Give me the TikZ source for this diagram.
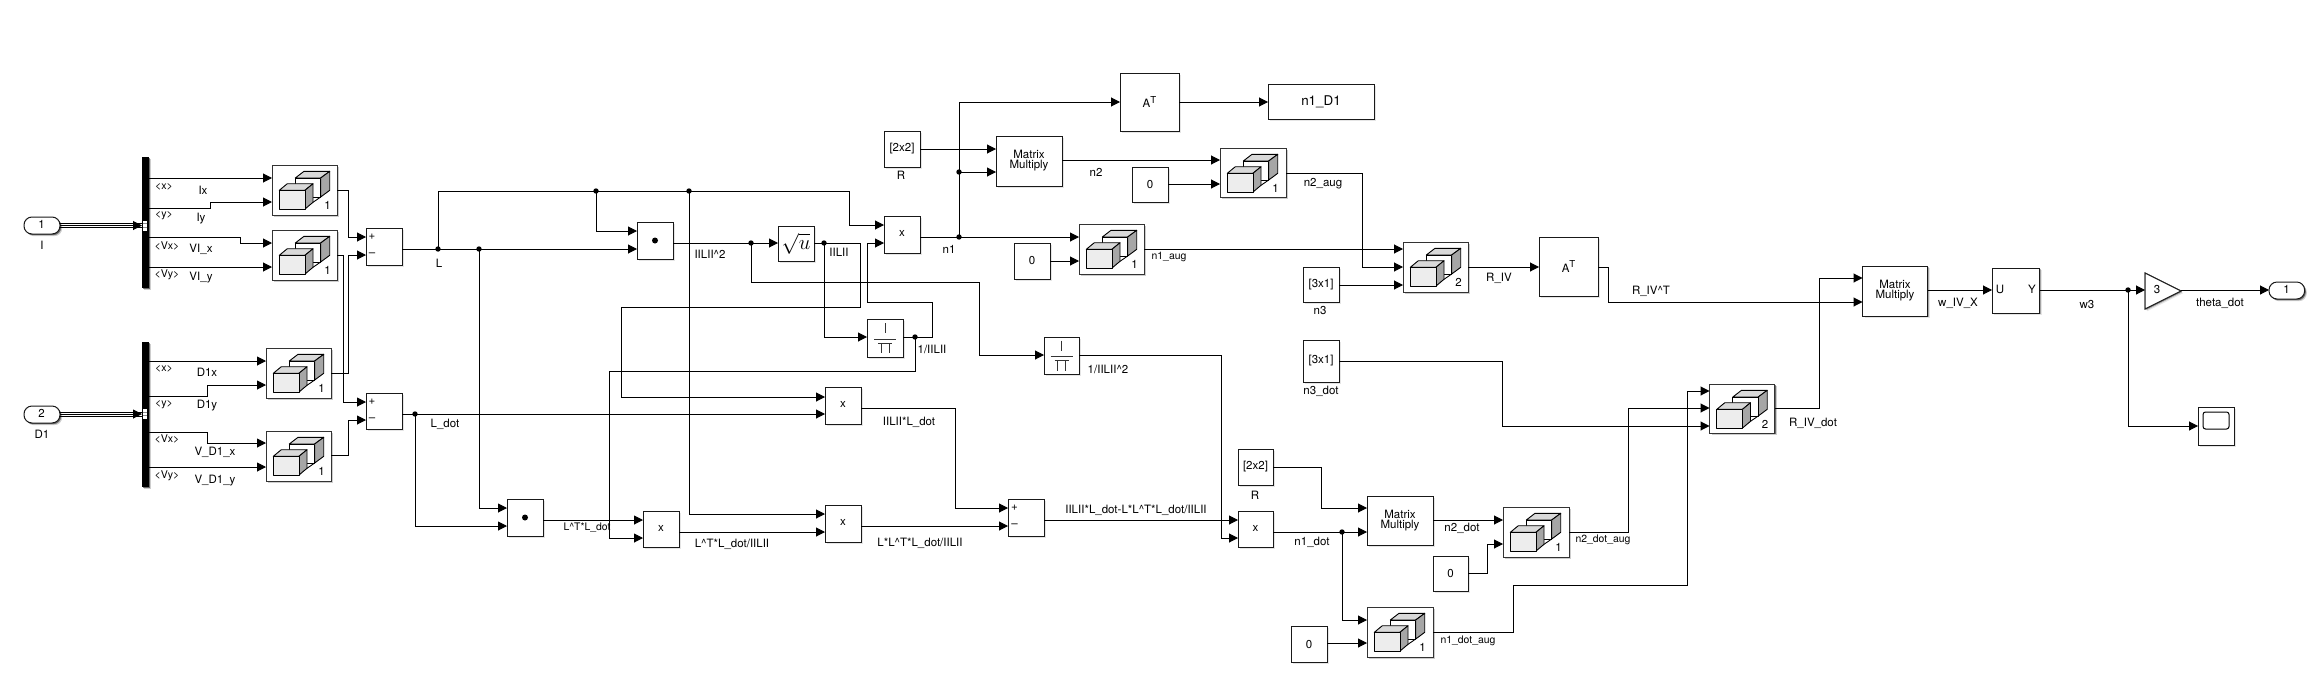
\documentclass[tikz,border=0pt]{standalone}
\usepackage{fontspec}
\setmainfont{TeX Gyre Heros}
\usetikzlibrary{arrows.meta,shadows}
\tikzset{
  softshadow/.style={
    general shadow={shadow xshift=2.2pt,shadow yshift=-2.2pt,opacity=.10,fill=black},
    general shadow={shadow xshift=1.2pt,shadow yshift=-1.2pt,opacity=.28,fill=black}},
  blockbox/.style={softshadow,draw=black!90,fill=white,line width=1pt,inner sep=0pt,outer sep=0pt,
    align=center,font=\fontsize{11.5}{10}\selectfont},
  catbox/.style={blockbox,draw=black!80},
  wire/.style={draw=black,line width=1pt},
  arrowwire/.style={wire,-{Triangle[length=9pt,width=9pt]}},
  junc/.style={circle,fill=black,inner sep=0pt,minimum size=5.4pt,outer sep=0pt},
  lab/.style={inner sep=0pt,outer sep=0pt,font=\fontsize{11.5}{12}\selectfont},
  smlab/.style={lab,font=\fontsize{10.4}{12}\selectfont},
  buslab/.style={lab,font=\fontsize{10.6}{12}\selectfont},
  portbox/.style={blockbox,rounded corners=8pt},
  busbar/.style={softshadow,fill=black,draw=none,inner sep=0pt,outer sep=0pt},
}
\newcommand{\blk}[7][]{%
  \pgfmathsetmacro\bcx{(#3+#5)/2}\pgfmathsetmacro\bcy{(#4+#6)/2}%
  \pgfmathsetmacro\bw{#5-#3}\pgfmathsetmacro\bh{#6-#4}%
  \node[blockbox,minimum width=\bw pt,minimum height=\bh pt,#1] (#2) at (\bcx,\bcy) {#7};}
\newcommand{\lbl}[5][lab]{\node[#1] (#2) at (#3,#4) {#5};}
\newcommand{\atxt}{A\raisebox{4.2pt}{\fontsize{9.6}{10}\selectfont T}}
\newcommand{\xtxt}{\raisebox{2pt}{x}}
% concatenate icon, origin in the block's top left corner
\newcommand{\caticon}[2]{%
  \begin{scope}[shift={(#1.north west)},line width=.9pt,draw=black,line join=round]
    \draw[fill=black!15] (23.3,13)--(32,6.3)--(57.7,6.3)--(48.7,13)--cycle;
    \draw[fill=black!35] (48.7,13)--(57.7,6.3)--(57.7,25.3)--(48.7,32)--cycle;
    \draw[fill=white] (23.3,13) rectangle (48.7,32);
    \draw[fill=black!15] (7.3,25.3)--(15.3,18.7)--(41,18.7)--(33,25.3)--cycle;
    \draw[fill=black!35] (33,25.3)--(41,18.7)--(41,37.3)--(33,44)--cycle;
    \draw[fill=black!7] (7.3,25.3) rectangle (33,44);
    \draw (41,37.3)--(48.7,32);
    \node[lab] at (55.5,40.5) {#2};
  \end{scope}}
% reciprocal (divide) icon
\newcommand{\divicon}[1]{%
  \begin{scope}[shift={(#1.center)},line width=1pt,draw=black!80]
    \draw (0,-15)--(0,-5);
    \draw (-11,1)--(11,1);
    \draw (-7,5)--(7,5) (-4,5)--(-4,15) (4,5)--(4,15);
  \end{scope}}
\newcommand{\dotmark}[1]{\fill[black] (#1.center) circle (3pt);}
\begin{document}
\begin{tikzpicture}[x=1pt,y=-1pt]
\useasboundingbox (0,0) rectangle (2314,672);
\fill[white] (0,0) rectangle (2314,672);

% ---------- ports and buses
\blk[portbox]{inA}{24}{217}{60}{234}{}
\blk[portbox]{inB}{24}{406}{60}{423}{}
\lbl{inAn}{41.5}{224.5}{1}
\lbl{inBn}{41.5}{413}{2}
\lbl{inAl}{42}{245}{I}
\lbl{inBl}{42}{434}{D1}
\blk[busbar]{busA}{142}{157}{149}{288}{}
\blk[busbar]{busB}{142}{342}{149}{487}{}

% ---------- blocks
\blk[catbox]{cA}{272}{165}{337}{215}{}
\blk[catbox]{cB}{272}{230}{337}{280}{}
\blk[catbox]{cC}{266}{348}{331}{398}{}
\blk[catbox]{cD}{266}{431}{331}{481}{}
\blk{sumA}{366}{228}{402}{265}{}
\blk{sumB}{366}{393}{402}{429}{}
\blk{sumC}{1008}{499}{1044}{536}{}
\blk{dotA}{637}{222}{673}{259}{}
\blk{dotB}{507}{499}{543}{536}{}
\blk{sqrtA}{778}{226}{814}{261}{\huge$\sqrt{u}$}
\blk{prodA}{884}{216}{920}{253}{\xtxt}
\blk{prodB}{643}{511}{679}{547}{\xtxt}
\blk{prodC}{825}{387}{861}{424}{\xtxt}
\blk{prodD}{825}{505}{861}{542}{\xtxt}
\blk{prodE}{1238}{511}{1273}{547}{\xtxt}
\blk{invA}{867}{319}{903}{357}{}
\blk{invB}{1044}{337}{1079}{374}{}
\blk{rA}{884}{131}{920}{167}{[2x2]}
\blk{rB}{1238}{449}{1273}{485}{[2x2]}
\blk{mmA}{996}{136}{1062}{186}{Matrix\\Multiply}
\blk{mmB}{1862.5}{266}{1927.5}{316}{Matrix\\Multiply}
\blk{mmC}{1367}{496}{1433}{545}{Matrix\\Multiply}
\blk{atA}{1120}{73}{1179}{131}{\atxt}
\blk{atB}{1539}{237}{1598}{296}{\atxt}
\blk[font=\fontsize{13.4}{14}\selectfont]{gotoA}{1268}{84}{1374}{119}{n1\_D1}
\blk[catbox]{cE}{1220}{148}{1286}{197}{}
\blk[catbox]{cF}{1079}{224}{1144}{274}{}
\blk[catbox]{cG}{1403}{242}{1468}{292}{}
\blk[catbox]{cH}{1709.5}{384}{1774.5}{433}{}
\blk[catbox]{cI}{1503}{507}{1569}{557}{}
\blk[catbox]{cJ}{1367}{607}{1433}{657}{}
\blk{zA}{1132}{167}{1168}{202}{0}
\blk{zB}{1014}{243}{1050}{279}{0}
\blk{zC}{1433}{556}{1468}{591}{0}
\blk{zD}{1291}{626}{1327}{662}{0}
\blk{nA}{1303}{267}{1339}{302}{[3x1]}
\blk{nB}{1303}{340}{1339}{382}{[3x1]}
\blk{uy}{1992}{268}{2039.6}{313}{}
\blk{scopeA}{2198}{407}{2234}{445}{}
\blk[portbox]{outA}{2269}{282}{2304.6}{299}{}
\lbl{outAn}{2286.5}{289.5}{1}
\lbl{uyU}{2000}{289}{U}
\lbl{uyY}{2032}{289}{Y}
\node[inner sep=0pt,outer sep=0pt,minimum width=36pt,minimum height=36pt] (gain) at (2163,291) {};
\draw[softshadow,fill=white,draw=black!88,line width=1pt,line join=miter] (gain.north west)--(gain.east)--(gain.south west)--cycle;
\draw[fill=white,draw=black!88,line width=1pt] (gain.north west)--(gain.east)--(gain.south west)--cycle;
\lbl{gainN}{2157}{290}{3}

% ---------- icons
\caticon{cA}{1}\caticon{cB}{1}\caticon{cC}{1}\caticon{cD}{1}
\caticon{cE}{1}\caticon{cF}{1}\caticon{cG}{2}\caticon{cH}{2}\caticon{cI}{1}\caticon{cJ}{1}
\divicon{invA}\divicon{invB}
\dotmark{dotA}\dotmark{dotB}
\draw[draw=black,line width=1pt,rounded corners=2.5pt,fill=white] (2203,412) rectangle (2229,429);
\foreach \bb/\yy in {busA/225.5,busB/414}{
  \fill[white] (143,\yy-5) rectangle (147,\yy+5);
  \draw[black!45,line width=.7pt] (143,\yy-1.7)--(147,\yy-1.7) (143,\yy+1.7)--(147,\yy+1.7);
}
\lbl{pAa}{372}{237}{+}\lbl{pAb}{372}{254.5}{–}
\lbl{pBa}{372}{402}{+}\lbl{pBb}{372}{419.5}{–}
\lbl{pCa}{1014.5}{508}{+}\lbl{pCb}{1014.5}{525.5}{–}

% ---------- junctions
\node[junc] (jL) at (438,249) {};
\node[junc] (jLb) at (479,249) {};
\node[junc] (jT) at (596,191) {};
\node[junc] (jU) at (689,191) {};
\node[junc] (jD) at (415,414) {};
\node[junc] (jS) at (751,243) {};
\node[junc] (jN) at (824,243) {};
\node[junc] (jI) at (915,337) {};
\node[junc] (jO) at (959,237) {};
\node[junc] (jP) at (959,172) {};
\node[junc] (jQ) at (1342,532) {};
\node[junc] (jW) at (2128,290) {};

% ---------- wires
\draw[wire] (inA.east |- 0,223.5) -- (busA.west |- 0,223.5);
\draw[wire] (inA.east |- 0,227.5) -- (busA.west |- 0,227.5);
\draw[arrowwire] (inA.east |- 0,225.5) -- (busA.west |- 0,225.5);
\draw[wire] (inB.east |- 0,412) -- (busB.west |- 0,412);
\draw[wire] (inB.east |- 0,416) -- (busB.west |- 0,416);
\draw[arrowwire] (inB.east |- 0,414) -- (busB.west |- 0,414);

\draw[arrowwire] (busA.east |- 0,178) -- (cA.west |- 0,178);
\draw[arrowwire] (busA.east |- 0,208) -- (210,208) -- (210,202) -- (cA.west |- 0,202);
\draw[arrowwire] (busA.east |- 0,237) -- (240,237) -- (240,243) -- (cB.west |- 0,243);
\draw[arrowwire] (busA.east |- 0,267) -- (cB.west |- 0,267);
\draw[arrowwire] (busB.east |- 0,361) -- (cC.west |- 0,361);
\draw[arrowwire] (busB.east |- 0,396) -- (207,396) -- (207,385) -- (cC.west |- 0,385);
\draw[arrowwire] (busB.east |- 0,432) -- (207,432) -- (207,443) -- (cD.west |- 0,443);
\draw[arrowwire] (busB.east |- 0,467) -- (cD.west |- 0,467);

\draw[arrowwire] (cA.east |- 0,190) -- (348,190) -- (348,237) -- (sumA.west |- 0,237);
\draw[arrowwire] (cB.east |- 0,255) -- (343,255) -- (343,402) -- (sumB.west |- 0,402);
\draw[arrowwire] (cC.east |- 0,373) -- (348,373) -- (348,255) -- (sumA.west |- 0,255);
\draw[arrowwire] (cD.east |- 0,455) -- (348,455) -- (348,420) -- (sumB.west |- 0,420);

\draw[arrowwire] (sumA.east |- 0,249) -- (dotA.west |- 0,249);
\draw[arrowwire] (jL.center) -- (438,191) -- (849,191) -- (849,225) -- (prodA.west |- 0,225);
\draw[arrowwire] (jT.center) -- (596,231) -- (dotA.west |- 0,231);
\draw[arrowwire] (jU.center) -- (689,514) -- (prodD.west |- 0,514);
\draw[arrowwire] (jLb.center) -- (479,508) -- (dotB.west |- 0,508);
\draw[arrowwire] (sumB.east |- 0,414) -- (prodC.west |- 0,414);
\draw[arrowwire] (jD.center) -- (415,526) -- (dotB.west |- 0,526);

\draw[arrowwire] (dotA.east |- 0,243) -- (sqrtA.west |- 0,243);
\draw[arrowwire] (jS.center) -- (751,282) -- (979,282) -- (979,355) -- (invB.west |- 0,355);
\draw[arrowwire] (sqrtA.east |- 0,243) -- (860,243) -- (860,307) -- (621,307) -- (621,397) -- (prodC.west |- 0,397);
\draw[arrowwire] (jN.center) -- (824,337) -- (invA.west |- 0,337);
\draw[arrowwire] (invA.east |- 0,337) -- (932,337) -- (932,302) -- (867,302) -- (867,243) -- (prodA.west |- 0,243);
\draw[arrowwire] (jI.center) -- (915,371) -- (609,371) -- (609,538) -- (prodB.west |- 0,538);

\draw[arrowwire] (dotB.east |- 0,520) -- (prodB.west |- 0,520);
\draw[arrowwire] (prodB.east |- 0,532) -- (prodD.west |- 0,532);
\draw[arrowwire] (prodC.east |- 0,408) -- (955,408) -- (955,508) -- (sumC.west |- 0,508);
\draw[arrowwire] (prodD.east |- 0,526) -- (sumC.west |- 0,526);
\draw[arrowwire] (sumC.east |- 0,520) -- (prodE.west |- 0,520);
\draw[arrowwire] (invB.east |- 0,355) -- (1221,355) -- (1221,538) -- (prodE.west |- 0,538);

\draw[arrowwire] (prodE.east |- 0,532) -- (mmC.west |- 0,532);
\draw[arrowwire] (jQ.center) -- (1342,620) -- (cJ.west |- 0,620);
\draw[arrowwire] (rB.east |- 0,467) -- (1321,467) -- (1321,508) -- (mmC.west |- 0,508);
\draw[arrowwire] (mmC.east |- 0,520) -- (cI.west |- 0,520);
\draw[arrowwire] (zC.east |- 0,573) -- (1487,573) -- (1487,544) -- (cI.west |- 0,544);
\draw[arrowwire] (zD.east |- 0,643) -- (cJ.west |- 0,643);
\draw[arrowwire] (cI.east |- 0,532) -- (1628,532) -- (1628,408) -- (cH.west |- 0,408);
\draw[arrowwire] (cJ.east |- 0,632) -- (1513,632) -- (1513,585) -- (1687,585) -- (1687,391) -- (cH.west |- 0,391);
\draw[arrowwire] (nB.east |- 0,361) -- (1502,361) -- (1502,426) -- (cH.west |- 0,426);
\draw[arrowwire] (cH.east |- 0,408) -- (1819,408) -- (1819,278) -- (mmB.west |- 0,278);

\draw[arrowwire] (prodA.east |- 0,237) -- (cF.west |- 0,237);
\draw[arrowwire] (jO.center) -- (959,102) -- (atA.west |- 0,102);
\draw[arrowwire] (jP.center) -- (mmA.west |- 0,172);
\draw[arrowwire] (rA.east |- 0,149) -- (mmA.west |- 0,149);
\draw[arrowwire] (mmA.east |- 0,160) -- (cE.west |- 0,160);
\draw[arrowwire] (zA.east |- 0,184) -- (cE.west |- 0,184);
\draw[arrowwire] (atA.east |- 0,102) -- (gotoA.west |- 0,102);
\draw[arrowwire] (cE.east |- 0,173) -- (1362,173) -- (1362,267) -- (cG.west |- 0,267);
\draw[arrowwire] (zB.east |- 0,261) -- (cF.west |- 0,261);
\draw[arrowwire] (cF.east |- 0,249) -- (cG.west |- 0,249);
\draw[arrowwire] (nA.east |- 0,285) -- (cG.west |- 0,285);
\draw[arrowwire] (cG.east |- 0,267) -- (atB.west |- 0,267);
\draw[arrowwire] (atB.east |- 0,267) -- (1608,267) -- (1608,302) -- (mmB.west |- 0,302);
\draw[arrowwire] (mmB.east |- 0,290) -- (uy.west |- 0,290);
\draw[arrowwire] (uy.east |- 0,290) -- (gain.west |- 0,290);
\draw[arrowwire] (jW.center) -- (2128,426) -- (scopeA.west |- 0,426);
\draw[arrowwire] (gain.east |- 0,290) -- (outA.west |- 0,290);

% ---------- labels
\lbl[buslab]{tA}{164}{187}{<x>}
\lbl[buslab]{tB}{164}{216}{<y>}
\lbl[buslab]{tC}{167}{246}{<Vx>}
\lbl[buslab]{tD}{167}{275}{<Vy>}
\lbl[buslab]{tE}{164}{369}{<x>}
\lbl[buslab]{tF}{164}{405}{<y>}
\lbl[buslab]{tG}{167}{439}{<Vx>}
\lbl[buslab]{tH}{167}{476}{<Vy>}
\lbl{sA}{203}{190}{Ix}
\lbl{sB}{201}{219}{Iy}
\lbl{sC}{201}{249}{VI\_x}
\lbl{sD}{201}{278}{VI\_y}
\lbl{sE}{207}{372}{D1x}
\lbl{sF}{207}{406}{D1y}
\lbl{sG}{215}{452}{V\_D1\_x}
\lbl{sH}{215}{481}{V\_D1\_y}
\lbl{sI}{439}{263}{L}
\lbl{sJ}{445}{424}{L\_dot}
\lbl{sK}{710}{254}{IILII\textasciicircum 2}
\lbl{sL}{839}{252}{IILII}
\lbl{sM}{932}{349}{1/IILII}
\lbl{sN}{1108}{369}{1/IILII\textasciicircum 2}
\lbl{sO}{909}{422}{IILII*L\_dot}
\lbl[smlab]{sP}{587}{528}{L\textasciicircum T*L\_dot}
\lbl{sQ}{732}{544}{L\textasciicircum T*L\_dot/IILII}
\lbl{sR}{920}{543}{L*L\textasciicircum T*L\_dot/IILII}
\lbl{sS}{1136}{510}{IILII*L\_dot-L*L\textasciicircum T*L\_dot/IILII}
\lbl{sT}{901}{175}{R}
\lbl{sU}{949}{249}{n1}
\lbl{sV}{1096}{172}{n2}
\lbl[smlab]{sW}{1169}{257}{n1\_aug}
\lbl{sX}{1323}{184}{n2\_aug}
\lbl{sY}{1320}{311}{n3}
\lbl{sZ}{1321}{391}{n3\_dot}
\lbl{uA}{1499}{278}{R\_IV}
\lbl{uB}{1651}{291}{R\_IV\textasciicircum T}
\lbl{uC}{1813}{423}{R\_IV\_dot}
\lbl{uD}{1958}{303}{w\_IV\_X}
\lbl{uE}{2087}{305}{w3}
\lbl{uF}{2220}{303}{theta\_dot}
\lbl{uG}{1255}{495}{R}
\lbl{uH}{1312}{542}{n1\_dot}
\lbl{uI}{1462}{528}{n2\_dot}
\lbl[smlab]{uJ}{1603}{540}{n2\_dot\_aug}
\lbl[smlab]{uK}{1468}{641}{n1\_dot\_aug}
\end{tikzpicture}
\end{document}
